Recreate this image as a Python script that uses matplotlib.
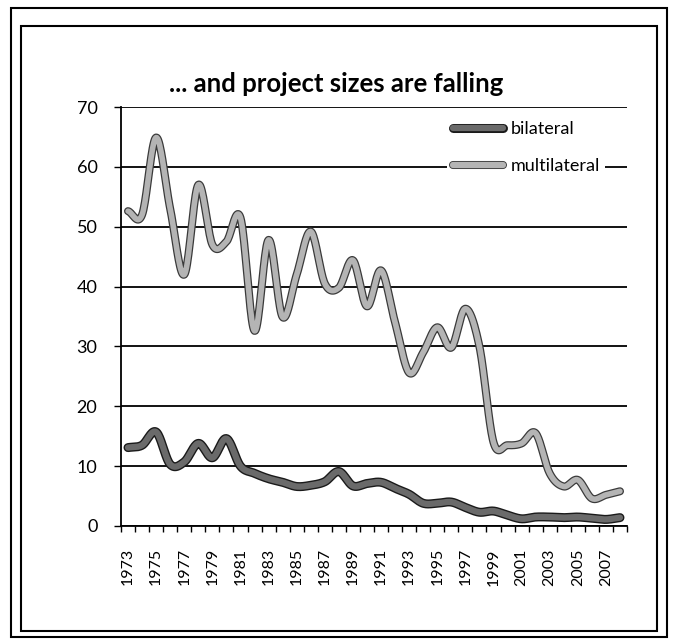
import numpy as np
import matplotlib
matplotlib.use("Agg")
import matplotlib.pyplot as plt
import matplotlib.patheffects as pe
from matplotlib.patches import Rectangle

years = list(range(1973, 2009))
bilateral = [13.1, 13.5, 15.7, 10.3, 10.7, 13.8, 11.4, 14.6, 10.0, 8.8,
             7.9, 7.3, 6.6, 6.8, 7.4, 9.1, 6.7, 7.1, 7.3, 6.3,
             5.3, 3.8, 3.8, 4.0, 3.1, 2.3, 2.5, 1.8, 1.2, 1.5,
             1.5, 1.4, 1.5, 1.3, 1.1, 1.4]
multilateral = [52.6, 52.0, 64.9, 53.0, 42.0, 57.0, 47.0, 47.5, 51.5, 32.6,
                47.8, 34.9, 42.0, 49.2, 40.5, 39.8, 44.4, 36.7, 42.7, 34.0,
                25.6, 29.0, 33.2, 29.8, 36.3, 30.0, 14.0, 13.5, 13.8, 15.5,
                8.8, 6.6, 7.7, 4.6, 5.2, 5.8]
tick_labels = [str(y) for y in years[::2]]

plt.rcParams['font.family'] = ['Lato', 'DejaVu Sans']

def smooth(x, y, n=20):
    # Catmull-Rom style smoothing (as in Excel "smoothed line")
    x = np.asarray(x, float); y = np.asarray(y, float)
    px = np.concatenate([[2*x[0]-x[1]], x, [2*x[-1]-x[-2]]])
    py = np.concatenate([[2*y[0]-y[1]], y, [2*y[-1]-y[-2]]])
    xs, ys = [], []
    t = np.linspace(0, 1, n, endpoint=False)
    for i in range(1, len(px)-2):
        for arr, out in ((px, xs), (py, ys)):
            p0, p1, p2, p3 = arr[i-1], arr[i], arr[i+1], arr[i+2]
            out.extend(0.5*((2*p1) + (-p0+p2)*t + (2*p0-5*p1+4*p2-p3)*t**2
                            + (-p0+3*p1-3*p2+p3)*t**3))
    xs.append(x[-1]); ys.append(y[-1])
    return np.array(xs), np.array(ys)

W, H = 675, 642
fig = plt.figure(figsize=(W/100, H/100), dpi=100)
ax = fig.add_axes([121/W, 1-526/H, (627-121)/W, (526-107)/H])

xi = np.arange(len(years))
bx, by = smooth(xi, bilateral)
mx, my = smooth(xi, multilateral)

ax.plot(bx, by, color='#6a6a6a', lw=4.5, solid_capstyle='round', label='bilateral',
        path_effects=[pe.Stroke(linewidth=6.5, foreground='#1a1a1a'), pe.Normal()], zorder=3)
ax.plot(mx, my, color='#b4b4b4', lw=4.0, solid_capstyle='round', label='multilateral',
        path_effects=[pe.Stroke(linewidth=5.8, foreground='#3a3a3a'), pe.Normal()], zorder=3)

ax.set_xlim(-0.5, len(years)-0.5)
ax.set_ylim(0, 70)
ax.set_yticks(range(0, 71, 10))
ax.set_xticks(xi[::2])
ax.set_xticklabels(tick_labels, rotation=90, fontsize=11.5)
ax.set_xticks(np.arange(-0.5, len(years), 1), minor=True)
ax.tick_params(axis='x', which='major', length=0, pad=16)
ax.tick_params(axis='x', which='minor', length=4, direction='out', width=1)
ax.tick_params(axis='y', length=5, width=1, labelsize=13, pad=12)
ax.grid(axis='y', color='black', lw=1.3)
ax.set_axisbelow(True)
for s in ['top', 'right']:
    ax.spines[s].set_visible(False)
for s in ['left', 'bottom']:
    ax.spines[s].set_linewidth(1.3)

leg = ax.legend(loc='upper right', bbox_to_anchor=(0.975, 1.0), frameon=True,
                fontsize=13, handlelength=2.8, labelspacing=1.15, borderpad=0.3,
                handletextpad=0.4)
leg.get_frame().set_edgecolor('none')
leg.get_frame().set_facecolor('white')
leg.get_frame().set_alpha(1)
for h in leg.legend_handles:
    h.set_linewidth(4.5)

fig.text(336/W, 1-84/H, '... and project sizes are falling', ha='center', va='center',
         fontsize=18.5, fontweight='bold')

fig.patches.append(Rectangle((11/W, 1-637/H), (667-11)/W, (637-8)/H, transform=fig.transFigure,
                             fill=False, lw=1.5, ec='black'))
fig.patches.append(Rectangle((21/W, 1-631/H), (657-21)/W, (631-26)/H, transform=fig.transFigure,
                             fill=False, lw=1.5, ec='black'))

fig.savefig('out.png', dpi=100)
